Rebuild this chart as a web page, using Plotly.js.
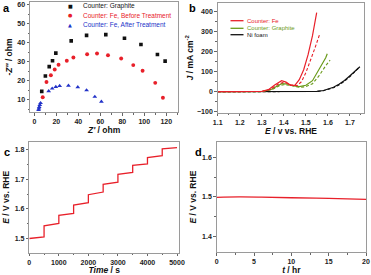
<!DOCTYPE html>
<html><head><meta charset="utf-8">
<script src="https://cdn.plot.ly/plotly-3.0.1.min.js"></script>
<style>html,body{margin:0;padding:0;background:#fff}#chart{width:371px;height:275px}</style>
</head><body><div id="chart"></div>
<script>
// ---- Panel a: Nyquist data ----
const aNames = ["Counter: Graphite", "Counter: Fe, Before Treatment", "Counter: Fe, After Treatment"];
const aGraphiteX = [6.7, 10, 13.5, 16.5, 19.5, 33.5, 47.5, 65, 82, 97, 112, 119];
const aGraphiteY = [14.5, 22.6, 27.5, 30.6, 34.6, 41.0, 43.9, 44.3, 42.4, 39.1, 33.9, 30.4];
const aFeBeforeX = [7.6, 11, 15, 18.5, 22, 29.5, 35.5, 48, 57, 67, 79, 90, 98.5, 110, 117];
const aFeBeforeY = [11.4, 19.4, 23, 26, 28.5, 30.6, 32.3, 34, 34.4, 33.5, 31.8, 28.3, 25.3, 19, 11.2];
const aFeAfterX = [3.8, 4.1, 4.4, 4.9, 5.6, 13, 16.2, 19.5, 23, 31, 39.5, 47.5, 55, 61];
const aFeAfterY = [4.8, 5.6, 6.3, 7.4, 8.4, 14.6, 16, 16.9, 17.4, 17.5, 16.7, 15.1, 11.7, 9.1];

// ---- Panel b: polarization curves ----
const bNames = ["Counter: Fe", "Counter: Graphite", "Ni foam"];
const bFeX = [1.10, 1.30, 1.33, 1.36, 1.39, 1.41, 1.43, 1.45, 1.47, 1.49, 1.51, 1.53, 1.549];
const bFeY = [0, 2, 10, 35, 55, 48, 32, 32, 60, 110, 185, 280, 395];
const bFeDashX = [1.10, 1.30, 1.34, 1.37, 1.40, 1.43, 1.46, 1.48, 1.50, 1.52, 1.54, 1.564];
const bFeDashY = [0, 1, 12, 35, 48, 35, 30, 50, 95, 150, 215, 292];
const bGrX = [1.10, 1.30, 1.34, 1.37, 1.39, 1.42, 1.44, 1.47, 1.50, 1.53, 1.56, 1.59, 1.597];
const bGrY = [0, 1, 10, 30, 40, 38, 30, 25, 32, 55, 110, 170, 190];
const bGrDashX = [1.10, 1.30, 1.35, 1.38, 1.40, 1.43, 1.47, 1.50, 1.53, 1.56, 1.59, 1.61];
const bGrDashY = [0, 0, 12, 30, 35, 32, 22, 25, 40, 80, 130, 158];
const bNiX = [1.10, 1.50, 1.55, 1.58, 1.60, 1.625, 1.65, 1.675, 1.70, 1.72, 1.745];
const bNiY = [0, 0, 2, 6, 12, 22, 37, 56, 80, 100, 125];
const bNiDashX = [1.10, 1.50, 1.55, 1.58, 1.60, 1.625, 1.65, 1.675, 1.70, 1.72, 1.74];
const bNiDashY = [0, 0, 1, 5, 10, 20, 34, 52, 76, 97, 120];

// ---- Panel c: stepped chronopotentiometry ----
const cTime = [0, 500, 500, 1000, 1000, 1500, 1500, 2000, 2000, 2500, 2500, 3000, 3000, 3500, 3500, 4000, 4000, 4500, 4500, 5000];
const cE = [1.500, 1.505, 1.543, 1.551, 1.578, 1.585, 1.613, 1.621, 1.648, 1.657, 1.683, 1.690, 1.717, 1.723, 1.747, 1.752, 1.773, 1.780, 1.803, 1.807];

// ---- Panel d: long-term stability ----
const dTime = [0, 3, 6, 10, 15, 20];
const dE = [1.499, 1.500, 1.4995, 1.498, 1.4965, 1.494];

const f = "Liberation Sans, Arial, sans-serif";
const tickFont = {family: f, size: 7, color: "#222", weight: "bold"};
const titleFont = {family: f, size: 8.5, color: "#111", weight: "bold"};
const frame = "#9a9a9a";

function ax(extra) {
  return Object.assign({
    showline: true, mirror: true, linecolor: frame, linewidth: 1,
    ticks: "outside", ticklen: 2.5, tickwidth: 1, tickcolor: "#666",
    showgrid: false, zeroline: false, tickfont: tickFont
  }, extra);
}
function minor(d, t0) {
  const m = {dtick: d, ticks: "outside", ticklen: 1.5, tickcolor: "#666"};
  if (t0 !== undefined) m.tick0 = t0;
  return m;
}

const traces = [
  {x: aGraphiteX, y: aGraphiteY, name: aNames[0], type: "scatter", mode: "markers", xaxis: "x", yaxis: "y",
   marker: {symbol: "square", size: 3.6, color: "#111"}},
  {x: aFeBeforeX, y: aFeBeforeY, name: aNames[1], type: "scatter", mode: "markers", xaxis: "x", yaxis: "y",
   marker: {symbol: "circle", size: 3.9, color: "#e8202a"}},
  {x: aFeAfterX, y: aFeAfterY, name: aNames[2], type: "scatter", mode: "markers", xaxis: "x", yaxis: "y",
   marker: {symbol: "triangle-up", size: 4.2, color: "#2232c8"}},
  {x: bNiX, y: bNiY, name: bNames[2], type: "scatter", mode: "lines", xaxis: "x2", yaxis: "y2",
   line: {color: "#111", width: 1.2}},
  {x: bNiDashX, y: bNiDashY, name: bNames[2], type: "scatter", mode: "lines", xaxis: "x2", yaxis: "y2",
   line: {color: "#111", width: 1.1, dash: "3px,2px"}},
  {x: bGrX, y: bGrY, name: bNames[1], type: "scatter", mode: "lines", xaxis: "x2", yaxis: "y2",
   line: {color: "#6a9a1a", width: 1.2}},
  {x: bGrDashX, y: bGrDashY, name: bNames[1], type: "scatter", mode: "lines", xaxis: "x2", yaxis: "y2",
   line: {color: "#6a9a1a", width: 1.1, dash: "3px,2px"}},
  {x: bFeX, y: bFeY, name: bNames[0], type: "scatter", mode: "lines", xaxis: "x2", yaxis: "y2",
   line: {color: "#e8202a", width: 1.2}},
  {x: bFeDashX, y: bFeDashY, name: bNames[0], type: "scatter", mode: "lines", xaxis: "x2", yaxis: "y2",
   line: {color: "#e8202a", width: 1.1, dash: "3px,2px"}},
  {x: cTime, y: cE, type: "scatter", mode: "lines", xaxis: "x3", yaxis: "y3",
   line: {color: "#e8202a", width: 1.3}},
  {x: dTime, y: dE, type: "scatter", mode: "lines", line: {shape: "spline", color: "#e8202a", width: 1.3}, xaxis: "x4", yaxis: "y4"}
];

const annotations = [
  {text: "<b>a</b>", x: 0.003, y: 1.0, xanchor: "left", yanchor: "top"},
  {text: "<b>b</b>", x: 0.503, y: 1.0, xanchor: "left", yanchor: "top"},
  {text: "<b>c</b>", x: 0.005, y: 0.475, xanchor: "left", yanchor: "top"},
  {text: "<b>d</b>", x: 0.520, y: 0.475, xanchor: "left", yanchor: "top"}
].map(a => Object.assign({xref: "paper", yref: "paper", showarrow: false, font: {family: f, size: 11, color: "#000"}}, a));

// legend for panel a
const aSym = ["■", "●", "▲"];
const aCol = ["#111", "#e8202a", "#2232c8"];
const aRowsY = [6, 15.3, 24.7];
aNames.forEach((n, i) => {
  annotations.push({text: aSym[i], xref: "paper", yref: "paper", x: 70 / 371, y: 1 - aRowsY[i] / 275,
    xanchor: "center", yanchor: "middle", showarrow: false, font: {family: "DejaVu Sans", size: 5, color: aCol[i]}});
  annotations.push({text: n, xref: "paper", yref: "paper", x: 81 / 371, y: 1 - aRowsY[i] / 275,
    xanchor: "left", yanchor: "middle", showarrow: false, font: {family: f, size: 6.5, color: aCol[i]}});
});
// legend for panel b
const bCol = ["#e8202a", "#6a9a1a", "#111"];
const bRowsY = [20.7, 28.3, 34.7];
const shapes = [];
bNames.forEach((n, i) => {
  shapes.push({type: "line", xref: "paper", yref: "paper", x0: 230.5 / 371, x1: 243.5 / 371,
    y0: 1 - bRowsY[i] / 275, y1: 1 - bRowsY[i] / 275, line: {color: bCol[i], width: 1.3}});
  annotations.push({text: n, xref: "paper", yref: "paper", x: 245 / 371, y: 1 - bRowsY[i] / 275,
    xanchor: "left", yanchor: "middle", showarrow: false, font: {family: f, size: 6, color: bCol[i]}});
});

const layout = {
  width: 371, height: 275, margin: {l: 0, r: 0, t: 0, b: 0},
  paper_bgcolor: "#fff", plot_bgcolor: "#fff", showlegend: false,
  xaxis: ax({domain: [30 / 371, 178.3 / 371], anchor: "y", range: [-4, 131], tickvals: [0, 20, 40, 60, 80, 100, 120],
    minor: minor(10), title: {text: "<i>Z'</i> / ohm", font: titleFont, standoff: 1}}),
  yaxis: ax({domain: [1 - 112 / 275, 1 - 2 / 275], anchor: "x", range: [3.7, 61.4], tickvals: [10, 20, 30, 40, 50, 60],
    minor: minor(5), title: {text: "-<i>Z''</i> / ohm", font: titleFont, standoff: 3}}),
  xaxis2: ax({domain: [217.7 / 371, 364.3 / 371], anchor: "y2", range: [1.1, 1.765], tickvals: [1.1, 1.2, 1.3, 1.4, 1.5, 1.6, 1.7],
    minor: minor(0.05, 1.1), title: {text: "<i>E</i> / v vs. RHE", font: titleFont, standoff: 2}}),
  yaxis2: ax({domain: [1 - 112.7 / 275, 1 - 2.7 / 275], anchor: "x2", range: [-105, 445], tickvals: [-100, 0, 100, 200, 300, 400],
    minor: minor(50), title: {text: "<i>J</i> / mA cm<sup>-2</sup>", font: titleFont, standoff: 2}}),
  xaxis3: ax({domain: [29.3 / 371, 179.3 / 371], anchor: "y3", range: [0, 5078], tickvals: [0, 1000, 2000, 3000, 4000, 5000],
    minor: minor(500), title: {text: "<i>Time</i> / s", font: titleFont, standoff: 3}}),
  yaxis3: ax({domain: [1 - 252.7 / 275, 1 - 142 / 275], anchor: "x3", range: [1.452, 1.826], tickvals: [1.5, 1.6, 1.7, 1.8],
    minor: minor(0.05), title: {text: "<i>E</i> / V vs. RHE", font: titleFont, standoff: 3}}),
  xaxis4: ax({domain: [216.7 / 371, 366 / 371], anchor: "y4", range: [0, 20], tickvals: [0, 5, 10, 15, 20],
    minor: minor(2.5), title: {text: "<i>t</i> / hr", font: titleFont, standoff: 3}}),
  yaxis4: ax({domain: [1 - 252.3 / 275, 1 - 142 / 275], anchor: "x4", range: [1.359, 1.64], tickvals: [1.4, 1.5, 1.6],
    minor: minor(0.05), title: {text: "<i>E</i> / V vs. RHE", font: titleFont, standoff: 4}}),
  annotations: annotations, shapes: shapes
};

Plotly.newPlot("chart", traces, layout, {staticPlot: true, displayModeBar: false});
</script></body></html>
